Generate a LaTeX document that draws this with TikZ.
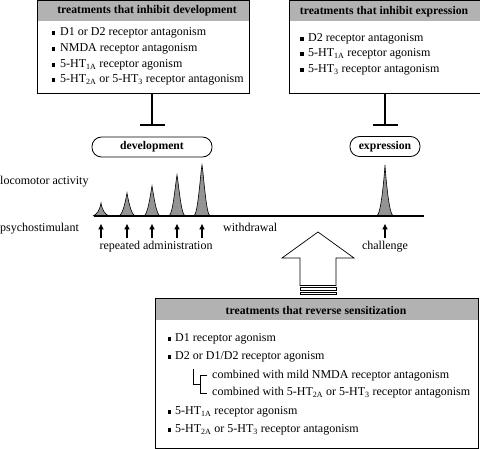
\documentclass[tikz,border=0pt]{standalone}
\usepackage{fontspec}
\setmainfont{Liberation Serif}
\usetikzlibrary{arrows.meta}

\definecolor{headgray}{gray}{0.70}
\definecolor{peakgray}{gray}{0.58}

\begin{document}
\begin{tikzpicture}[x=1pt,y=-1pt,font=\fontsize{12}{14}\selectfont,
	item/.style={anchor=west,inner sep=0pt,text height=8pt,text depth=2.5pt},
	headtext/.style={inner sep=0pt,font=\fontsize{11.7}{14}\selectfont\bfseries},
	panel/.style={draw,line width=0.9pt,anchor=north west,inner sep=0pt},
	stage/.style={draw,line width=0.8pt,rounded corners=9.5pt,minimum height=20pt,inner sep=0pt,font=\fontsize{11.7}{14}\selectfont\bfseries},
	blocker/.style={line width=1.6pt,-{Bar[width=25pt,line width=1.6pt]}},
	dose/.style={line width=1.6pt,-{Latex[length=6pt,width=6pt]}}]
	\useasboundingbox (0,0) rectangle (480,449);

	% treatment boxes
	\fill [headgray] (37,0.5) rectangle (249,21);
	\node [panel,minimum width=212pt,minimum height=92.5pt] (inhdev) at (37,0.5) {};
	\node [headtext] (inhdevhead) at (147,11) {treatments that inhibit development};
	\foreach \yy/\txt [count=\i] in {33/{D1 or D2 receptor antagonism},
		49/{NMDA receptor antagonism},
		65/{5-HT\textsubscript{1A} receptor agonism},
		80/{5-HT\textsubscript{2A} or 5-HT\textsubscript{3} receptor antagonism}} {
		\fill (53.5,\yy) ++(-1.8,-1.8) rectangle ++(3.6,3.6);
		\node [item] (dev\i) at (60,\yy) {\txt};
	}

	\fill [headgray] (289,0.5) rectangle (479.5,21);
	\node [panel,minimum width=190.5pt,minimum height=92.5pt] (inhexp) at (289,0.5) {};
	\node [headtext] (inhexphead) at (384,12) {treatments that inhibit expression};
	\foreach \yy/\txt [count=\i] in {39/{D2 receptor antagonism},
		54/{5-HT\textsubscript{1A} receptor agonism},
		70/{5-HT\textsubscript{3} receptor antagonism}} {
		\fill (302,\yy) ++(-1.8,-1.8) rectangle ++(3.6,3.6);
		\node [item] (exp\i) at (308,\yy) {\txt};
	}

	% stages
	\node [stage,minimum width=120pt] (dev) at (152,147) {development};
	\node [stage,minimum width=70pt] (expr) at (385,146.5) {expression};
	\draw [blocker,shorten >=11pt] (dev.north |- inhdev.south) -- (dev.north);
	\draw [blocker,shorten >=10pt] (expr.north |- inhexp.south) -- (expr.north);

	% time line
	\node [item] (loco) at (0,182) {locomotor activity};
	\node [item] (psycho) at (0,229) {psychostimulant};
	\foreach \px/\pt in {101/203,127/193,152/186,177/175,202/165} {
		\draw [fill=peakgray,line width=0.6pt] (\px-8,216) .. controls (\px-4,214) and (\px-1.5,\pt+8) .. (\px,\pt)
			.. controls (\px+1.5,\pt+8) and (\px+4,214) .. (\px+8,216);
		\draw [dose] (\px,238) -- (\px,223.5);
	}
	\draw [fill=peakgray,line width=0.6pt] (377,216) .. controls (381,213) and (384,180) .. (385,165)
		.. controls (386,180) and (389,213) .. (393,216);
	\draw [dose] (385,238) -- (385,223.5);
	\draw [line width=2pt] (94,216) -- (424,216);
	\node (repeat) at (156,247) {repeated administration};
	\node [item] (withdraw) at (223,229) {withdrawal};
	\node (chall) at (385,247) {challenge};

	% hollow arrow
	\draw [line width=0.7pt,line join=miter] (300,285.5) -- (300,258) -- (282,258) -- (318,232) -- (354,258)
		-- (336,258) -- (336,285.5) -- cycle;
	\draw [line width=0.7pt] (300,287.8) rectangle (336,290.2);
	\draw [line width=0.7pt] (300,292.2) rectangle (336,294.6);

	% reversal box
	\fill [headgray] (155,298) rectangle (478,320);
	\node [panel,minimum width=323pt,minimum height=150pt] (rev) at (155,298) {};
	\node [headtext] (revhead) at (316,310) {treatments that reverse sensitization};
	\foreach \yy/\txt [count=\i] in {339/{D1 receptor agonism},
		357/{D2 or D1/D2 receptor agonism},
		412/{5-HT\textsubscript{1A} receptor agonism},
		430/{5-HT\textsubscript{2A} or 5-HT\textsubscript{3} receptor antagonism}} {
		\fill (169.5,\yy) ++(-1.8,-1.8) rectangle ++(3.6,3.6);
		\node [item] (rev\i) at (175,\yy) {\txt};
	}
	\node [item] (combA) at (212,376) {combined with mild NMDA receptor antagonism};
	\node [item] (combB) at (212,393) {combined with 5-HT\textsubscript{2A} or 5-HT\textsubscript{3} receptor antagonism};
	\draw [line width=0.7pt] (193,369) -- (193,384) -- (200,384);
	\draw [line width=0.7pt] (207,375) -- (200,375) -- (200,393) -- (207,393);
\end{tikzpicture}
\end{document}
